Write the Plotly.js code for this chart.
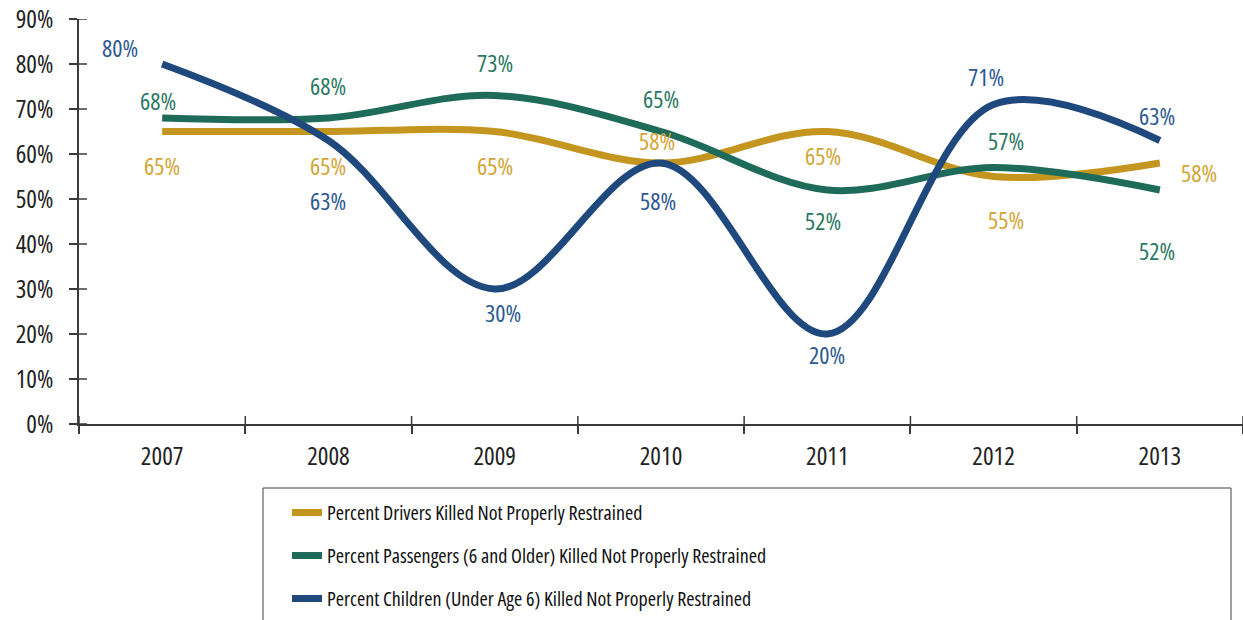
<!DOCTYPE html>
<html>
<head>
<meta charset="utf-8">
<script src="https://cdn.plot.ly/plotly-3.0.1.min.js"></script>
<style>
html,body{margin:0;padding:0;background:#fff;}
#chart{width:1243px;height:620px;}
text{font-stretch:82%;}
text.legendtext{font-stretch:75%;}
</style>
</head>
<body>
<div id="chart"></div>
<script>
// ---- data ----
const years = ['2007','2008','2009','2010','2011','2012','2013'];
const drivers = [65, 65, 65, 58, 65, 55, 58];
const passengers = [68, 68, 73, 65, 52, 57, 52];
const children = [80, 63, 30, 58, 20, 71, 63];
const seriesNames = [
  'Percent Drivers Killed Not Properly Restrained',
  'Percent Passengers (6 and Older) Killed Not Properly Restrained',
  'Percent Children (Under Age 6) Killed Not Properly Restrained'
];
const yTicks = [0,10,20,30,40,50,60,70,80,90];

// ---- styling ----
const FONT = '"Open Sans", "Liberation Sans Narrow", "DejaVu Sans Condensed", sans-serif';
const lineColors = ['#C4961F', '#1F6B5A', '#1F487C'];
const labelColors = ['#D2A536', '#2A7862', '#2D5892'];
// label pixel shifts [xshift, yshift] per point
const labelShifts = [
  [[0,-34],[0,-34],[0,-34],[-4,23],[-4,-24],[12,-43],[39,-9]],
  [[-4,18],[0,33],[0,33],[0,33],[-4,-30],[12,27],[-3,-60]],
  [[-42,17],[0,-60],[8,-23],[-3,-37],[0,-20],[-8,28],[-3,25]]
];

const allSeries = [drivers, passengers, children];
const traces = allSeries.map((vals, i) => ({
  type: 'scatter', mode: 'lines', x: years, y: vals, name: seriesNames[i],
  legendgroup: 'g' + i,
  line: {color: lineColors[i], width: 7, shape: 'spline', smoothing: 1}
}));

const annotations = [];
allSeries.forEach((vals, i) => {
  vals.forEach((v, j) => {
    annotations.push({
      x: j, y: v, xref: 'x', yref: 'y',
      text: v + '%', showarrow: false,
      xshift: labelShifts[i][j][0], yshift: labelShifts[i][j][1],
      font: {family: FONT, size: 24, weight: 400, color: labelColors[i]}
    });
  });
});

const axisColor = '#3a3a3a';
const shapes = [{
  type: 'rect', xref: 'paper', yref: 'paper',
  x0: (263-79)/1164, x1: (1231-79)/1164, y0: (424-488)/405, y1: (424-640)/405,
  line: {color: '#404040', width: 1}, fillcolor: 'rgba(0,0,0,0)'
}];
// inner halves of the crossing tick marks
yTicks.forEach(t => shapes.push({type:'line', xref:'paper', yref:'y', x0:0, x1:8/1164, y0:t, y1:t, line:{color:axisColor, width:1.5}}));
for (let j = 0; j <= years.length; j++) {
  shapes.push({type:'line', xref:'x', yref:'paper', x0:j-0.5, x1:j-0.5, y0:0, y1:8/405, line:{color:axisColor, width:1.5}});
}

const layout = {
  width: 1243, height: 620,
  margin: {l: 79, r: 0, t: 19, b: 196, pad: 0},
  paper_bgcolor: '#ffffff', plot_bgcolor: '#ffffff',
  font: {family: FONT, size: 24, color: '#222'},
  showlegend: true,
  legend: {
    x: (287-79)/1164, xanchor: 'left', y: (424-493)/405, yanchor: 'top',
    font: {family: FONT, size: 20, weight: 400, color: '#111'},
    bgcolor: 'rgba(0,0,0,0)', borderwidth: 0, tracegroupgap: 14
  },
  xaxis: {
    type: 'category', range: [-0.5, 6.5],
    showline: true, linecolor: axisColor, linewidth: 1.5,
    ticks: 'outside', ticklen: 8, tickwidth: 1.5, tickcolor: axisColor,
    tickson: 'boundaries', showgrid: false, zeroline: false,
    tickfont: {family: FONT, size: 25, weight: 400, color: '#222'}, ticklabelstandoff: 9
  },
  yaxis: {
    range: [0, 90], tickvals: yTicks, ticktext: yTicks.map(t => t + '%'),
    showline: true, linecolor: axisColor, linewidth: 1.5,
    ticks: 'outside', ticklen: 8, tickwidth: 1.5, tickcolor: axisColor,
    showgrid: false, zeroline: false,
    tickfont: {family: FONT, size: 25, weight: 400, color: '#222'}, ticklabelstandoff: 11
  },
  shapes: shapes,
  annotations: annotations
};

Plotly.newPlot('chart', traces, layout, {displayModeBar: false});
</script>
</body>
</html>
